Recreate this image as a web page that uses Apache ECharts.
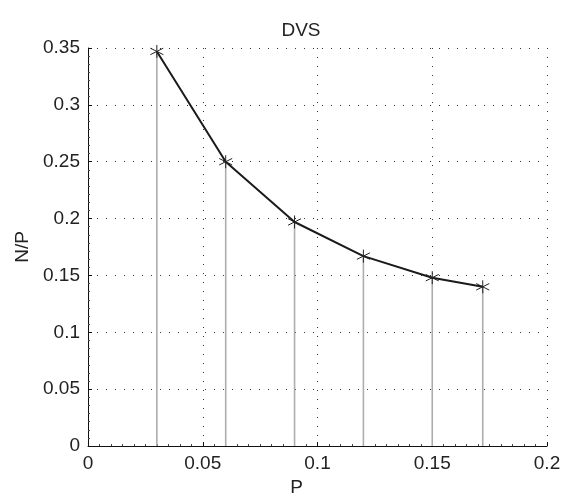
<!DOCTYPE html>
<html>
<head>
<meta charset="utf-8">
<script src="https://cdn.jsdelivr.net/npm/echarts@6/dist/echarts.min.js"></script>
<style>html,body{margin:0;padding:0;background:#fff}#c{width:569px;height:494px}</style>
</head>
<body>
<div id="c"></div>
<script>
var pValues = [0.03, 0.06, 0.09, 0.12, 0.15, 0.172];
var npValues = [0.347, 0.25, 0.197, 0.167, 0.148, 0.14];
var xTicks = [0, 0.05, 0.1, 0.15, 0.2];
var yTicks = [0, 0.05, 0.1, 0.15, 0.2, 0.25, 0.3, 0.35];
var titleText = 'DVS';
var xName = 'P';
var yName = 'N/P';

var pts = pValues.map(function (x, i) { return [x, npValues[i]]; });
var font = 'Liberation Sans, Arial, Helvetica, sans-serif';
var asterisk = 'path://M0,-10L0,10M-8.66,-5L8.66,5M-8.66,5L8.66,-5';

var chart = echarts.init(document.getElementById('c'), null, {renderer: 'canvas'});
chart.setOption({
  animation: false,
  backgroundColor: '#fff',
  title: {
    text: titleText, left: 296, top: 16, textAlign: 'center',
    textStyle: {fontFamily: font, fontSize: 19, fontWeight: 'normal', color: '#222'}
  },
  grid: {left: 88, right: 22, top: 48, bottom: 48, containLabel: false, outerBoundsMode: 'none'},
  xAxis: {
    type: 'value', min: xTicks[0], max: xTicks[xTicks.length - 1], interval: 0.05,
    name: xName, nameLocation: 'middle', nameGap: 31,
    nameTextStyle: {fontFamily: font, fontSize: 19, color: '#222', padding: [0, 42, 0, 0]},
    axisLine: {show: true, onZero: false, lineStyle: {color: '#111', width: 1}},
    axisTick: {show: true, inside: true, length: 4, lineStyle: {color: '#111'}},
    minorTick: {show: true, splitNumber: 10, length: 2, lineStyle: {color: '#444'}},
    axisLabel: {fontFamily: font, fontSize: 19, color: '#222', margin: 8,
      formatter: function (v) { return String(+v.toFixed(3)); }},
    splitLine: {show: true, lineStyle: {color: '#333', width: 1, type: [1, 8]}}
  },
  yAxis: {
    type: 'value', min: yTicks[0], max: yTicks[yTicks.length - 1], interval: 0.05,
    name: yName, nameLocation: 'middle', nameGap: 56, nameRotate: 90,
    nameTextStyle: {fontFamily: font, fontSize: 19, color: '#222'},
    axisLine: {show: true, onZero: false, lineStyle: {color: '#111', width: 1}},
    axisTick: {show: true, inside: true, length: 4, lineStyle: {color: '#111'}},
    minorTick: {show: true, splitNumber: 7, length: 2, lineStyle: {color: '#444'}},
    axisLabel: {fontFamily: font, fontSize: 19, color: '#222', margin: 8,
      formatter: function (v) { return String(+v.toFixed(3)); }},
    splitLine: {show: true, lineStyle: {color: '#333', width: 1, type: [1, 8]}}
  },
  series: [
    {
      type: 'custom',
      data: pts,
      z: 2,
      renderItem: function (params, api) {
        var top = api.coord([api.value(0), api.value(1)]);
        var bot = api.coord([api.value(0), 0]);
        return {
          type: 'line',
          shape: {x1: top[0], y1: top[1], x2: bot[0], y2: bot[1]},
          style: {stroke: '#adadad', lineWidth: 1.6}
        };
      }
    },
    {
      type: 'line',
      data: pts,
      z: 3,
      symbol: asterisk,
      symbolSize: 13,
      showAllSymbol: true,
      lineStyle: {color: '#1a1a1a', width: 2},
      itemStyle: {color: 'none', borderColor: '#222', borderWidth: 1}
    }
  ]
});
</script>
</body>
</html>
